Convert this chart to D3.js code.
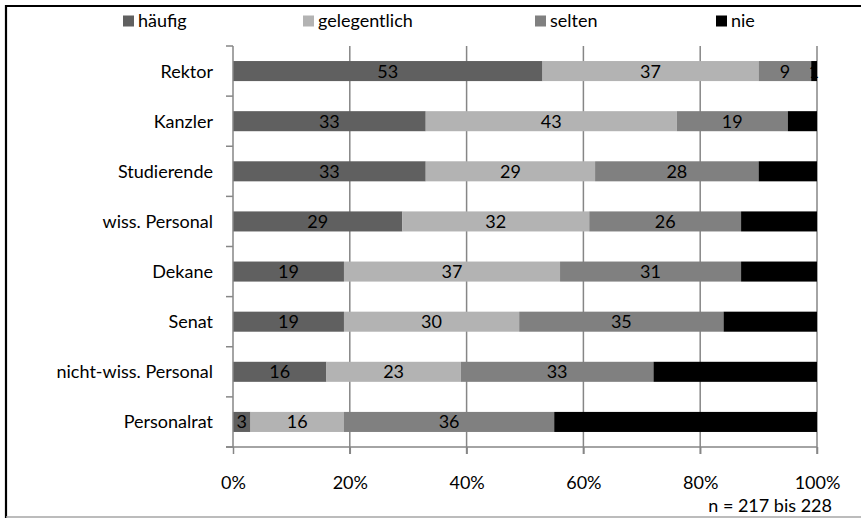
<!DOCTYPE html>
<html>
<head>
<meta charset="utf-8">
<script src="https://cdn.jsdelivr.net/npm/d3@7"></script>
<style>
  html, body { margin: 0; padding: 0; background: #fff; }
  svg { display: block; font-family: Lato, "Liberation Sans", sans-serif; }
</style>
</head>
<body>
<svg id="chart" width="861" height="518"></svg>
<script>
// Gremien / Akteure
const categories = ["Rektor", "Kanzler", "Studierende", "wiss. Personal", "Dekane", "Senat", "nicht-wiss. Personal", "Personalrat"];
// Anteile in Prozent je Antwortkategorie
const haeufig      = [53, 33, 33, 29, 19, 19, 16, 3];
const gelegentlich = [37, 43, 29, 32, 37, 30, 23, 16];
const selten       = [9, 19, 28, 26, 31, 35, 33, 36];
const nie          = [1, 5, 10, 13, 13, 16, 28, 45];
const seriesNames  = ["häufig", "gelegentlich", "selten", "nie"];
const seriesColors = ["#606060", "#b3b3b3", "#808080", "#000000"];
const xTicks       = [0, 0.2, 0.4, 0.6, 0.8, 1];
const note         = "n = 217 bis 228";

const values = [haeufig, gelegentlich, selten, nie];
const rows = categories.map((c, i) => {
  const r = { cat: c };
  seriesNames.forEach((s, k) => r[s] = values[k][i]);
  return r;
});

const svg = d3.select("#chart");
const W = 861, H = 518;
const m = { left: 233, right: 44, top: 46, bottom: 71 };
const fontSize = 18;

// Rahmen: oben und links schwarz, unten grau
svg.append("line").attr("x1", 5).attr("x2", W).attr("y1", 6).attr("y2", 6)
  .attr("stroke", "#000").attr("stroke-width", 2.2);
svg.append("line").attr("x1", 6).attr("x2", 6).attr("y1", 5).attr("y2", H)
  .attr("stroke", "#000").attr("stroke-width", 2.2);
svg.append("line").attr("x1", 6).attr("x2", W).attr("y1", 517).attr("y2", 517)
  .attr("stroke", "#a6a6a6").attr("stroke-width", 1.5);

const x = d3.scaleLinear().domain([0, 1]).range([m.left, W - m.right]);
const y = d3.scaleBand().domain(categories).range([m.top, H - m.bottom]).paddingInner(0.6).paddingOuter(0.3);

const stack = d3.stack().keys(seriesNames).offset(d3.stackOffsetExpand);
const stacked = stack(rows);

const gridColor = "#868686";

// Gitternetzlinien
svg.append("g").selectAll("line").data(xTicks.slice(1)).join("line")
  .attr("x1", d => x(d)).attr("x2", d => x(d))
  .attr("y1", m.top).attr("y2", H - m.bottom + 7)
  .attr("stroke", gridColor).attr("stroke-width", 1.5);

// Balken
const colorOf = d3.scaleOrdinal().domain(seriesNames).range(seriesColors);
const layers = svg.append("g").selectAll("g").data(stacked).join("g")
  .attr("fill", d => colorOf(d.key));
layers.selectAll("rect").data(d => d).join("rect")
  .attr("x", d => x(d[0]))
  .attr("width", d => x(d[1]) - x(d[0]))
  .attr("y", d => y(d.data.cat))
  .attr("height", y.bandwidth());

// Datenbeschriftungen
svg.append("g").selectAll("g").data(stacked).join("g")
  .selectAll("text").data(d => d.map(p => ({ p, key: d.key }))).join("text")
  .attr("x", d => (x(d.p[0]) + x(d.p[1])) / 2)
  .attr("y", d => y(d.p.data.cat) + y.bandwidth() / 2)
  .attr("dy", "0.36em")
  .attr("text-anchor", "middle")
  .attr("font-size", fontSize)
  .attr("fill", "#000")
  .text(d => d.p.data[d.key]);

// y-Achse
const yAxis = svg.append("g").attr("transform", `translate(${m.left},0)`);
yAxis.append("line").attr("x1", 0).attr("x2", 0).attr("y1", m.top).attr("y2", H - m.bottom)
  .attr("stroke", gridColor).attr("stroke-width", 1.5);
const step = y.step();
const boundaries = d3.range(categories.length + 1).map(i => m.top + i * step);
yAxis.selectAll("line.tk").data(boundaries).join("line").attr("class", "tk")
  .attr("x1", -7).attr("x2", 0).attr("y1", d => d).attr("y2", d => d)
  .attr("stroke", gridColor).attr("stroke-width", 1.5);
yAxis.selectAll("text").data(categories).join("text")
  .attr("x", -20).attr("y", d => y(d) + y.bandwidth() / 2).attr("dy", "0.36em")
  .attr("text-anchor", "end").attr("font-size", fontSize).attr("fill", "#000")
  .text(d => d);

// x-Achse
const xAxis = d3.axisBottom(x).tickValues(xTicks).tickFormat(d3.format(".0%"))
  .tickSize(7).tickPadding(22);
const gx = svg.append("g").attr("transform", `translate(0,${H - m.bottom})`).call(xAxis);
gx.select(".domain").remove();
gx.append("line").attr("x1", m.left - 7).attr("x2", x(1)).attr("y1", 0).attr("y2", 0)
  .attr("stroke", gridColor).attr("stroke-width", 1.5);
gx.selectAll(".tick line").attr("stroke", gridColor).attr("stroke-width", 1.5);
gx.selectAll(".tick text").attr("font-size", fontSize).attr("fill", "#000")
  .attr("font-family", "Lato, 'Liberation Sans', sans-serif");

// Legende
const legendX = [123, 303, 535, 716];
const leg = svg.append("g").selectAll("g").data(seriesNames).join("g")
  .attr("transform", (d, i) => `translate(${legendX[i]},21)`);
leg.append("rect").attr("x", 0).attr("y", -5.5).attr("width", 11).attr("height", 11)
  .attr("fill", d => colorOf(d));
leg.append("text").attr("x", 15).attr("y", 0).attr("dy", "0.36em")
  .attr("font-size", fontSize).attr("fill", "#000").text(d => d);

// Fallzahl
svg.append("text").attr("x", 832).attr("y", 506).attr("dy", "0.36em")
  .attr("text-anchor", "end").attr("font-size", fontSize).attr("fill", "#000")
  .text(note);
</script>
</body>
</html>
